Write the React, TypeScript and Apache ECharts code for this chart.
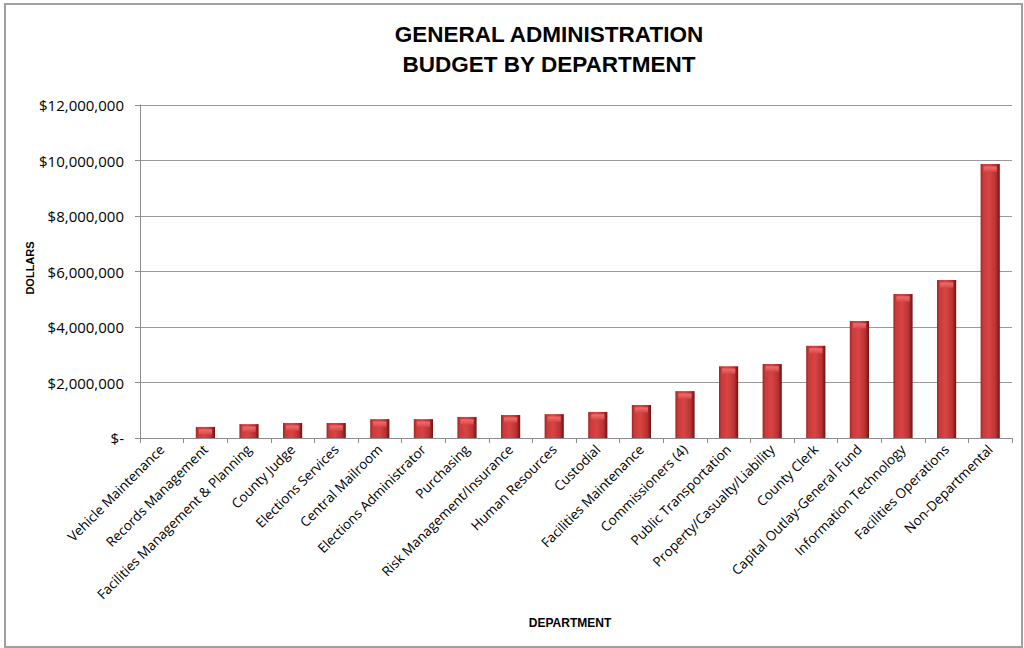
import React, { useEffect, useRef } from "react";
import * as echarts from "echarts";

const categories = [
  "Vehicle Maintenance",
  "Records Management",
  "Facilities Management & Planning",
  "County Judge",
  "Elections Services",
  "Central Mailroom",
  "Elections Administrator",
  "Purchasing",
  "Risk Management/Insurance",
  "Human Resources",
  "Custodial",
  "Facilities Maintenance",
  "Commissioners (4)",
  "Public Transportation",
  "Property/Casualty/Liability",
  "County Clerk",
  "Capital Outlay-General Fund",
  "Information Technology",
  "Facilities Operations",
  "Non-Departmental",
];

const budget = [
  0, 400000, 500000, 540000, 540000, 680000, 680000, 760000, 830000, 860000,
  940000, 1190000, 1690000, 2590000, 2670000, 3320000, 4220000, 5190000,
  5690000, 9870000,
];

const titleLines = ["GENERAL ADMINISTRATION", "BUDGET BY DEPARTMENT"];
const yAxisTitle = "DOLLARS";
const xAxisTitle = "DEPARTMENT";

const FONT = "Liberation Sans, Arial, sans-serif";
const LABEL_FONT = "Open Sans, Liberation Sans, sans-serif";

export default function App() {
  const ref = useRef<HTMLDivElement>(null);
  useEffect(() => {
    document.body.style.margin = "0";
    if (!ref.current) return;
    const chart = echarts.init(ref.current, null, { renderer: "svg" });
    chart.setOption({
      animation: false,
      backgroundColor: "#ffffff",
      textStyle: { fontFamily: FONT },
      title: {
        text: titleLines.join("\n"),
        left: 544,
        top: 14,
        textAlign: "center",
        textStyle: {
          fontFamily: FONT,
          fontSize: 22.5,
          fontWeight: "bold",
          color: "#000",
          lineHeight: 30,
        },
      },
      graphic: [
        {
          type: "rect",
          shape: { x: 5, y: 4, width: 1017, height: 643 },
          style: { fill: "none", stroke: "#a0a0a0", lineWidth: 2 },
          silent: true,
        },
        {
          type: "text",
          x: 570,
          y: 623,
          style: {
            text: xAxisTitle,
            fontFamily: FONT,
            fontSize: 12,
            fontWeight: "bold",
            fill: "#000",
            align: "center",
            verticalAlign: "middle",
          },
        },
        {
          type: "text",
          x: 30,
          y: 268,
          rotation: Math.PI / 2,
          style: {
            text: yAxisTitle,
            fontFamily: FONT,
            fontSize: 11,
            fontWeight: "bold",
            fill: "#000",
            align: "center",
            verticalAlign: "middle",
          },
        },
      ],
      grid: { left: 140, right: 12, top: 105, bottom: 210, containLabel: false },
      xAxis: {
        type: "category",
        data: categories,
        axisLine: { lineStyle: { color: "#8c8c8c", width: 1 } },
        axisTick: { show: true, alignWithLabel: false, length: 5, lineStyle: { color: "#8c8c8c" } },
        axisLabel: {
          rotate: 45,
          interval: 0,
          margin: 9,
          fontFamily: LABEL_FONT,
          fontSize: 13.5,
          color: "#000",
        },
      },
      yAxis: {
        type: "value",
        min: 0,
        max: 12000000,
        interval: 2000000,
        axisLine: { show: true, lineStyle: { color: "#8c8c8c", width: 1 } },
        axisTick: { show: true, length: 5, lineStyle: { color: "#8c8c8c" } },
        splitLine: { show: true, lineStyle: { color: "#9a9a9a", width: 1 } },
        axisLabel: {
          margin: 16,
          fontFamily: LABEL_FONT,
          fontSize: 15,
          color: "#000",
          formatter: (v: number) =>
            v === 0 ? "$-" : "$" + v.toLocaleString("en-US"),
        },
      },
      series: [
        {
          type: "bar",
          data: budget,
          barWidth: "44%",
          itemStyle: {
            color: new echarts.graphic.LinearGradient(0, 0, 1, 0, [
              { offset: 0, color: "#9c2222" },
              { offset: 0.12, color: "#c83a3a" },
              { offset: 0.45, color: "#d94444" },
              { offset: 0.8, color: "#b83232" },
              { offset: 1, color: "#6e1212" },
            ]),
            borderWidth: 0,
          },
        },
        {
          type: "pictorialBar",
          data: budget.map((v) => (v > 0 ? v : null)),
          symbol: "rect",
          symbolSize: ["44%", 5],
          symbolPosition: "end",
          symbolOffset: [0, "50%"],
          silent: true,
          z: 3,
          itemStyle: {
            color: new echarts.graphic.LinearGradient(0, 0, 0, 1, [
              { offset: 0, color: "#f07070" },
              { offset: 1, color: "#d84848" },
            ]),
          },
        },
      ],
    });
    return () => chart.dispose();
  }, []);
  return <div ref={ref} style={{ width: 1024, height: 648 }} />;
}
